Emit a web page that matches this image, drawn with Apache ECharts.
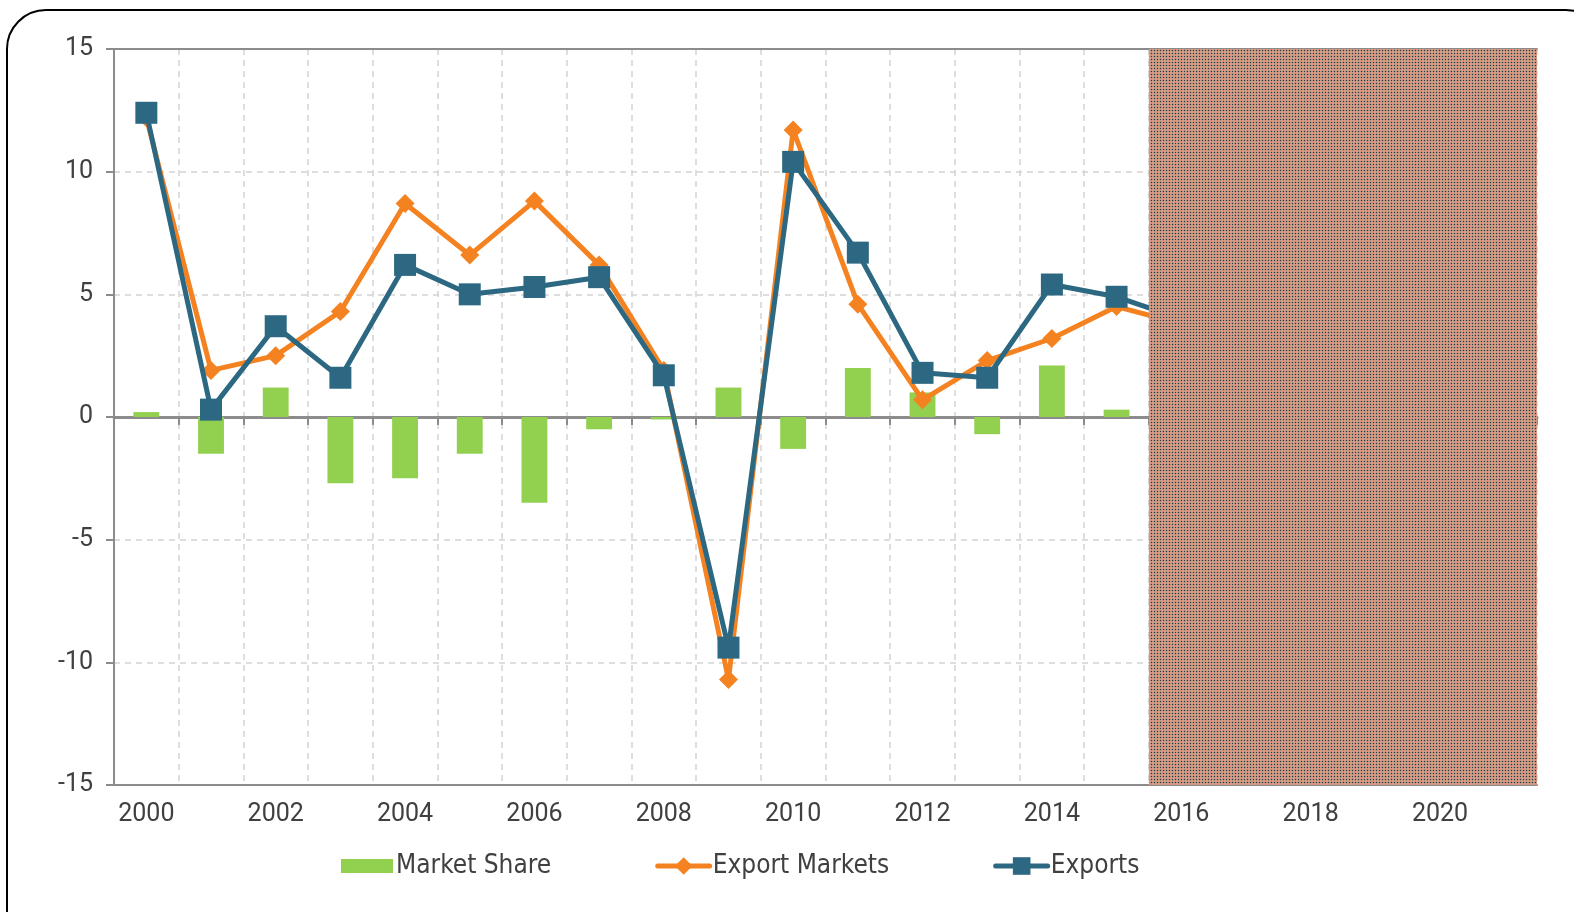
<!DOCTYPE html>
<html>
<head>
<meta charset="utf-8">
<script src="https://cdn.jsdelivr.net/npm/echarts@6/dist/echarts.min.js"></script>
<style>
html,body{margin:0;padding:0;background:#fff;overflow:hidden;}
#chart{position:absolute;left:0;top:0;width:1574px;height:912px;}
#frame{position:absolute;left:6px;top:9px;width:1600px;height:960px;border:2px solid #000;border-radius:40px;pointer-events:none;box-sizing:border-box;}
</style>
</head>
<body>
<div id="chart"></div>
<div id="frame"></div>
<script>
// ---- data ----
const years = ['2000','2001','2002','2003','2004','2005','2006','2007','2008','2009','2010',
               '2011','2012','2013','2014','2015','2016','2017','2018','2019','2020','2021'];
const marketShare   = [0.2,-1.5,1.2,-2.7,-2.5,-1.5,-3.5,-0.5,-0.1,1.2,-1.3,2.0,1.0,-0.7,2.1,0.3,null,null,null,null,null,null];
const exportMarkets = [12.2,1.9,2.5,4.3,8.7,6.6,8.8,6.2,1.9,-10.7,11.7,4.6,0.7,2.3,3.2,4.5,3.8,null,null,null,null,null];
const exportsSeries = [12.4,0.3,3.7,1.6,6.2,5.0,5.3,5.7,1.7,-9.4,10.4,6.7,1.8,1.6,5.4,4.9,4.0,null,null,null,null,null];
const yTicks = {min:-15, max:15, step:5};
const shadeFrom = '2016', shadeTo = '2021';

// hatched pattern for forecast area
const pc = document.createElement('canvas');
pc.width = 3; pc.height = 3;
const pctx = pc.getContext('2d');
pctx.fillStyle = '#e6967c'; pctx.fillRect(0,0,3,3);
pctx.fillStyle = '#a3988c'; pctx.fillRect(2,0,1,3); pctx.fillRect(0,2,3,1);
pctx.fillStyle = '#3e3028'; pctx.fillRect(2,2,1,1);

const GREY = '#8c8c8c';
const TXT = '#404040';
const tickFont = 'Roboto, "Noto Sans", sans-serif';
const legFont = '"Liberation Sans Narrow","DejaVu Sans Condensed","Roboto Condensed",Roboto,sans-serif';
// rect icon 52x14 drawn inside a 52x22 legend box
const barIcon = 'path://M0,0L52,0L52,0.01Z M0,22L52,22L52,21.99Z M0,4L52,4L52,18L0,18Z';

const chart = echarts.init(document.getElementById('chart'), null, {renderer:'canvas'});
chart.setOption({
  animation:false,
  backgroundColor:'#fff',
  grid:{left:114, right:37, top:49, bottom:127, containLabel:false},
  legend:{
    left:336, top:848,
    itemWidth:52, itemHeight:22, itemGap:104,
    lineStyle:{width:5, cap:'round'},
    textStyle:{fontFamily:legFont, fontSize:26, color:TXT, padding:[0,0,0,-2]},
    data:[{name:'Market Share', icon:barIcon},{name:'Export Markets'},{name:'Exports'}]
  },
  xAxis:[
    {type:'category', data:years, position:'bottom', boundaryGap:true,
     axisLine:{show:true, onZero:false, lineStyle:{color:GREY, width:2}},
     axisTick:{show:false},
     axisLabel:{interval:1, fontFamily:tickFont, fontSize:25, color:TXT, margin:17},
     splitLine:{show:true, interval:0, lineStyle:{color:'#d4d4d4', width:1.5, type:[6,5]}}},
    {type:'category', data:years, position:'bottom', boundaryGap:true,
     axisLine:{show:true, onZero:true, lineStyle:{color:GREY, width:3}},
     axisTick:{show:true, interval:0, length:8, lineStyle:{color:GREY, width:2}},
     axisLabel:{show:false}, splitLine:{show:false}},
    {type:'category', data:years, position:'top', boundaryGap:true,
     axisLine:{show:true, onZero:false, lineStyle:{color:GREY, width:2}},
     axisTick:{show:false}, axisLabel:{show:false}, splitLine:{show:false}}
  ],
  yAxis:{
    type:'value', min:yTicks.min, max:yTicks.max, interval:yTicks.step,
    axisLine:{show:true, lineStyle:{color:GREY, width:2}},
    axisTick:{show:true, length:8, lineStyle:{color:GREY, width:2}},
    axisLabel:{fontFamily:tickFont, fontSize:25, color:TXT, margin:21},
    splitLine:{show:true, lineStyle:{color:'#d4d4d4', width:1.5, type:[6,5]}}
  },
  series:[
    {name:'Market Share', type:'bar', xAxisIndex:0, data:marketShare, barWidth:'40%',
     itemStyle:{color:'#92d050'}, z:2,
     markArea:{silent:true, z:20,
       itemStyle:{color:{image:pc, repeat:'repeat'}, borderWidth:0},
       data:[[{xAxis:shadeFrom},{xAxis:shadeTo}]]}},
    {name:'Export Markets', type:'line', xAxisIndex:0, data:exportMarkets,
     symbol:'diamond', symbolSize:19, showAllSymbol:true,
     lineStyle:{color:'#f58220', width:5}, itemStyle:{color:'#f58220'}, z:3},
    {name:'Exports', type:'line', xAxisIndex:0, data:exportsSeries,
     symbol:'rect', symbolSize:22, showAllSymbol:true,
     lineStyle:{color:'#2c6882', width:5}, itemStyle:{color:'#2c6882'}, z:4}
  ]
});
</script>
</body>
</html>
